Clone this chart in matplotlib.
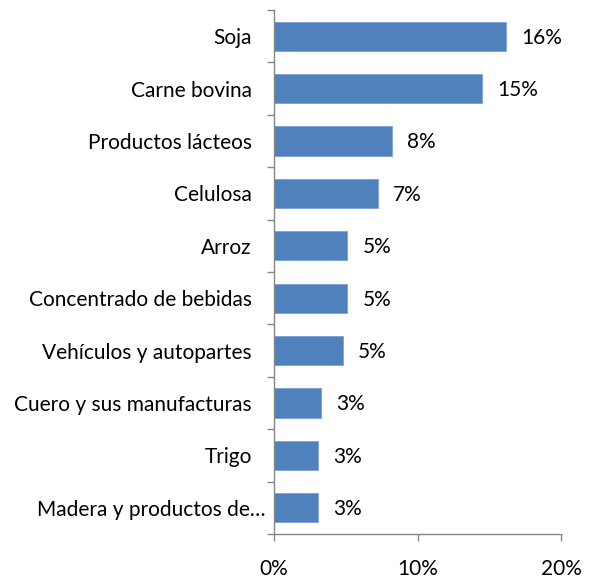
import matplotlib.pyplot as plt
import matplotlib.transforms as mtransforms
import numpy as np

categories = ['Soja', 'Carne bovina', 'Productos lácteos', 'Celulosa', 'Arroz',
              'Concentrado de bebidas', 'Vehículos y autopartes',
              'Cuero y sus manufacturas', 'Trigo', 'Madera y productos de…']
shares = [16.2, 14.5, 8.2, 7.25, 5.1, 5.1, 4.8, 3.3, 3.05, 3.05]
value_labels = ['16%', '15%', '8%', '7%', '5%', '5%', '5%', '3%', '3%', '3%']
xticks = [0, 10, 20]
xtick_labels = ['0%', '10%', '20%']

plt.rcParams['font.family'] = ['Lato', 'DejaVu Sans']

dpi = 100
fig = plt.figure(figsize=(5.94, 5.81), dpi=dpi)
ax = fig.add_axes([274/594, 1 - 534/581, (561 - 274)/594, (534 - 10)/581])

pos = np.arange(len(categories))
ax.barh(pos, shares, height=0.56, color='#4F81BD', edgecolor='#7da2d0', linewidth=0.6)

for p, v, lab in zip(pos, shares, value_labels):
    ax.annotate(lab, (v, p), xytext=(11, -1), textcoords='offset points',
                va='center', ha='left', fontsize=15, color='black')

ax.set_ylim(len(categories) - 0.5, -0.5)
ax.set_xlim(0, 20)

ax.set_yticks(pos)
ax.set_yticklabels(categories, fontsize=15)
ax.set_yticks(np.arange(-0.5, len(categories)), minor=True)
ax.tick_params(axis='y', which='major', length=0, pad=16)
ax.tick_params(axis='y', which='minor', length=5, width=1, color='#868686')

# truncated label sits closer to the axis in the original
last = ax.get_yticklabels()[-1]
last.set_transform(last.get_transform() + mtransforms.ScaledTranslation(14/dpi, 0, fig.dpi_scale_trans))

ax.set_xticks(xticks)
ax.set_xticklabels(xtick_labels, fontsize=15)
ax.tick_params(axis='x', length=5, width=1, color='#868686', pad=13)

for s in ['top', 'right']:
    ax.spines[s].set_visible(False)
for s in ['left', 'bottom']:
    ax.spines[s].set_color('#868686')
    ax.spines[s].set_linewidth(1)

plt.savefig('out.png', dpi=dpi)
